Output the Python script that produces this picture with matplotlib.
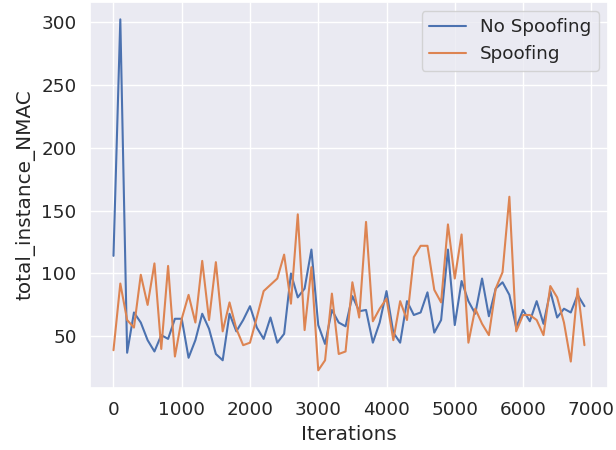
import numpy as np
import matplotlib
matplotlib.use("Agg")
import matplotlib.pyplot as plt
import seaborn as sns

sns.set_theme(font_scale=1.2)

# Iterations logged every 100 steps
iterations = np.arange(0, 7000, 100)

no_spoofing = [
    114, 302, 37, 69, 61, 47, 38, 51, 48, 64,
    64, 33, 47, 68, 56, 36, 31, 68, 54, 63,
    74, 57, 48, 65, 45, 52, 100, 81, 88, 119,
    59, 44, 71, 61, 58, 82, 70, 71, 45, 61,
    86, 53, 45, 78, 67, 69, 85, 53, 63, 119,
    59, 94, 78, 68, 96, 66, 88, 93, 83, 57,
    71, 62, 78, 60, 86, 65, 72, 69, 83, 74,
]

spoofing = [
    39, 92, 63, 57, 99, 75, 108, 40, 106, 34,
    64, 83, 61, 110, 63, 109, 54, 77, 56, 43,
    45, 65, 86, 91, 96, 115, 76, 147, 55, 105,
    23, 31, 84, 36, 38, 93, 65, 141, 62, 72,
    80, 47, 78, 63, 113, 122, 122, 87, 77, 139,
    96, 131, 45, 72, 60, 51, 88, 101, 161, 54,
    67, 67, 63, 51, 90, 81, 61, 30, 88, 43,
]

fig = plt.figure(figsize=(6.16, 4.5), dpi=100)
ax = fig.add_subplot(111)
ax.plot(iterations, no_spoofing, label="No Spoofing")
ax.plot(iterations, spoofing, label="Spoofing")
ax.set_xlabel("Iterations")
ax.set_ylabel("total_instance_NMAC")
ax.legend(loc="upper right")
fig.subplots_adjust(left=0.146, right=0.987, bottom=0.138, top=0.996)
fig.savefig("out.png", dpi=100)
